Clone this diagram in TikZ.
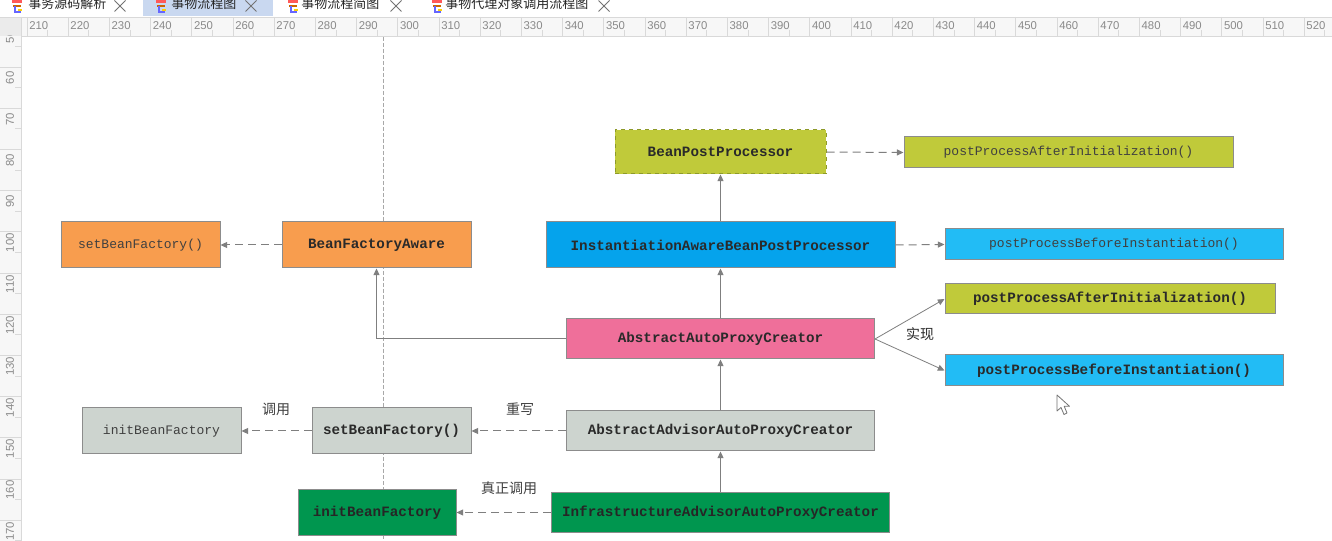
\documentclass[tikz,border=0pt]{standalone}
\usepackage{fontspec}
\setmainfont{Liberation Sans}
\setmonofont{Liberation Mono}
\newfontfamily\cjk{Noto Sans CJK SC}
\usetikzlibrary{arrows.meta}

\definecolor{olivebox}{HTML}{C0CA3A}
\definecolor{bluebox}{HTML}{05A3EC}
\definecolor{cyanbox}{HTML}{22BCF5}
\definecolor{orangebox}{HTML}{F89D4E}
\definecolor{pinkbox}{HTML}{EF6F9A}
\definecolor{graybox}{HTML}{CDD4CF}
\definecolor{greenbox}{HTML}{00964F}
\definecolor{boxline}{HTML}{8C8C8C}
\definecolor{oliveline}{HTML}{8E9A2A}
\definecolor{linkc}{HTML}{7F7F7F}
\definecolor{strongtext}{HTML}{2A2A2A}
\definecolor{softtext}{HTML}{404040}
\definecolor{tabsel}{HTML}{C9D8F0}
\definecolor{rulerbg}{HTML}{F7F7F7}
\definecolor{rulerline}{HTML}{D9D9D9}
\definecolor{rulertext}{HTML}{8A8A8A}
\definecolor{guide}{HTML}{A8A8A8}

\begin{document}
\begin{tikzpicture}[x=0.75pt,y=-0.75pt,
  box/.style={draw=boxline, line width=0.75pt, inner sep=0pt, align=center},
  size/.style 2 args={minimum width=#1*0.75pt, minimum height=#2*0.75pt},
  strong/.style={font=\ttfamily\bfseries\fontsize{10.7}{12}\selectfont, text=strongtext},
  plain/.style={font=\ttfamily\fontsize{9.75}{12}\selectfont, text=softtext},
  conn/.style={draw=linkc, line width=0.75pt, -{Triangle[length=5pt,width=4.5pt]}},
  dconn/.style={conn, dash pattern=on 6pt off 3.75pt},
  note/.style={font=\cjk\fontsize{10.5}{12}\selectfont, text=softtext, inner sep=0pt},
  tabtext/.style={font=\cjk\fontsize{9.75}{11}\selectfont, text=black!85, inner sep=0pt, anchor=west},
  closex/.style={draw=black!55, line width=0.6pt},
  tick/.style={draw=rulerline, line width=0.6pt},
  rulernum/.style={font=\fontsize{8.5}{10}\selectfont, text=rulertext, inner sep=0pt}
]
\useasboundingbox (0,0) rectangle (1332,541);
\clip (0,0) rectangle (1332,541);
\fill[white] (0,0) rectangle (1332,541);

% ---------- tab bar ----------
\fill[tabsel] (143,0) rectangle (273,16);
\foreach \ix in {12,156,288,432}{
  \fill[red!65] (\ix,0) rectangle (\ix+10,3.5);
  \draw[orange!80!black, line width=0.8pt] (\ix+1,6) -- (\ix+9,6);
  \draw[blue!60, line width=0.8pt] (\ix+3,6) -- (\ix+3,12) -- (\ix+9,12);
  \fill[yellow!70!orange] (\ix+6,9) rectangle (\ix+10,11);
}
\node[tabtext] (tab1) at (28,4) {事务源码解析};
\node[tabtext] (tab2) at (171,4) {事物流程图};
\node[tabtext] (tab3) at (301,4) {事物流程简图};
\node[tabtext] (tab4) at (445,4) {事物代理对象调用流程图};
\foreach \cx in {120,251,396,604}{
  \draw[closex] (\cx-5.5,0.5) -- (\cx+5.5,11.5) (\cx-5.5,11.5) -- (\cx+5.5,0.5);
}

% ---------- rulers ----------
\fill[rulerbg] (0,17) rectangle (1332,36);
\fill[rulerbg] (0,36) rectangle (21,541);
\fill[black!8] (0,17) rectangle (21,36);
\draw[tick] (0,17) -- (1332,17);
\draw[tick] (21,36) -- (1332,36);
\draw[tick] (21,17) -- (21,541);
\foreach \v in {210,220,...,520}{
  \pgfmathsetmacro\xx{27+(\v-210)*4.12}
  \draw[tick] (\xx,17) -- (\xx,36);
  \draw[tick] (\xx+20.6,30) -- (\xx+20.6,36);
  \node[rulernum, anchor=west] (hr\v) at (\xx+2,25.5) {\v};
}
\begin{scope}
\clip (0,36) rectangle (21,541);
\foreach \v in {50,60,...,170}{
  \pgfmathsetmacro\yy{67+(\v-60)*4.12}
  \draw[tick] (0,\yy) -- (21,\yy);
  \draw[tick] (15,\yy+20.6) -- (21,\yy+20.6);
  \node[rulernum, rotate=90] (vr\v) at (10,\yy+11) {\v};
}
\end{scope}

% ---------- alignment guide ----------
\draw[guide, line width=0.6pt, dash pattern=on 3pt off 1.5pt] (383,37) -- (383,541);

% ---------- class boxes ----------
\node[box, size={211}{44}, fill=olivebox, draw=oliveline, dashed, strong] (bpp) at (720.5,152) {BeanPostProcessor};
\node[box, size={329}{31}, fill=olivebox, plain] (afterA) at (1068.5,152.5) {postProcessAfterInitialization()};
\node[box, size={349}{46}, fill=bluebox, strong] (iabpp) at (720.5,245) {InstantiationAwareBeanPostProcessor};
\node[box, size={338}{31}, fill=cyanbox, plain] (beforeA) at (1114,244.5) {postProcessBeforeInstantiation()};
\node[box, size={189}{46}, fill=orangebox, strong] (bfa) at (376.5,245) {BeanFactoryAware};
\node[box, size={159}{46}, fill=orangebox, plain] (sbfTop) at (140.5,245) {setBeanFactory()};
\node[box, size={308}{40}, fill=pinkbox, strong] (aapc) at (720.5,339) {AbstractAutoProxyCreator};
\node[box, size={330}{30}, fill=olivebox, strong] (afterB) at (1110,299) {postProcessAfterInitialization()};
\node[box, size={338}{31}, fill=cyanbox, strong] (beforeB) at (1114,370.5) {postProcessBeforeInstantiation()};
\node[box, size={308}{40}, fill=graybox, strong] (aaapc) at (720.5,431) {AbstractAdvisorAutoProxyCreator};
\node[box, size={159}{46}, fill=graybox, strong] (sbfMid) at (391.5,431) {setBeanFactory()};
\node[box, size={159}{46}, fill=graybox, plain] (ibfGray) at (161.5,431) {initBeanFactory};
\node[box, size={338}{40}, fill=greenbox, strong, text=black!85] (iaapc) at (720.5,512.5) {InfrastructureAdvisorAutoProxyCreator};
\node[box, size={158}{45}, fill=greenbox, strong, text=black!85] (ibfGreen) at (377,512.5) {initBeanFactory};

% ---------- inheritance links ----------
\draw[conn] (iabpp.north) -- (bpp.south);
\draw[conn] (aapc.north) -- (iabpp.south);
\draw[conn] (aaapc.north) -- (aapc.south);
\draw[conn] (iaapc.north) -- (aaapc.south);
\draw[conn] (aapc.west) -| (bfa.south);

% ---------- method links ----------
\draw[dconn] (bpp.east) -- (afterA.west);
\draw[dconn] (iabpp.east) -- (beforeA.west);
\draw[dconn] (bfa.west) -- (sbfTop.east);
\draw[dconn] (aaapc.west) -- (sbfMid.east);
\draw[dconn] (sbfMid.west) -- (ibfGray.east);
\draw[dconn] (iaapc.west) -- (ibfGreen.east);
\draw[conn, line width=0.6pt] (aapc.east) -- (afterB.west);
\draw[conn, line width=0.6pt] (aapc.east) -- (beforeB.west);

% ---------- link labels ----------
\node[note, text=strongtext] (implLbl) at (920,334) {实现};
\node[note] (callLbl) at (276,409) {调用};
\node[note] (overLbl) at (520,409) {重写};
\node[note] (realLbl) at (509,488) {真正调用};

% ---------- mouse pointer ----------
\draw[black!55, fill=white, line width=0.6pt, line join=round]
  (1057,395) -- (1057,411) -- (1061,407.5) -- (1064,414.5) -- (1067,413) -- (1064.2,406.3) -- (1069.5,406.3) -- cycle;
\end{tikzpicture}
\end{document}
